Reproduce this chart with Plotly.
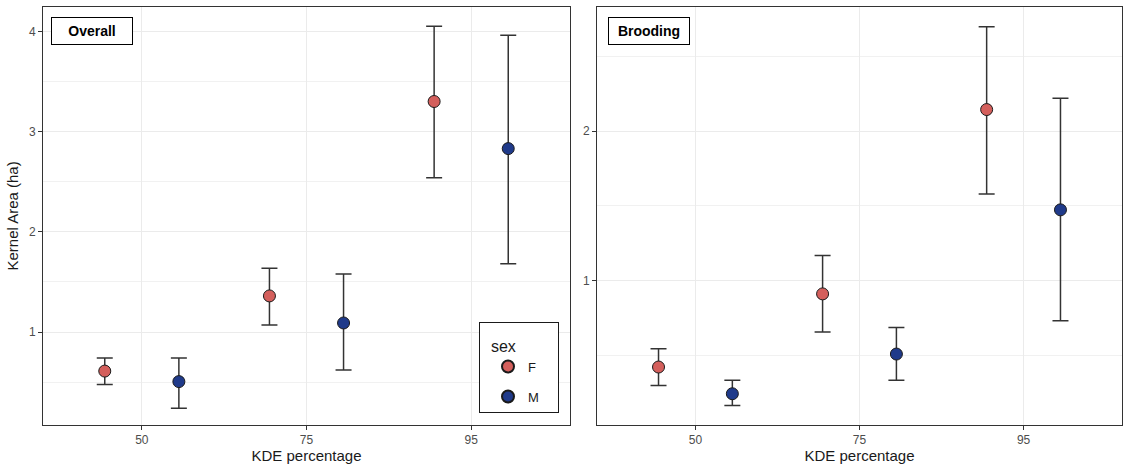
import plotly.graph_objects as go
from plotly.subplots import make_subplots

# ---- data ----
kde_levels = ["50", "75", "95"]
sexes = ["F", "M"]

overall_F_mean = [0.61, 1.36, 3.30]
overall_F_low = [0.475, 1.07, 2.54]
overall_F_high = [0.74, 1.635, 4.05]
overall_M_mean = [0.505, 1.09, 2.83]
overall_M_low = [0.24, 0.62, 1.68]
overall_M_high = [0.74, 1.58, 3.96]

brood_F_mean = [0.42, 0.91, 2.145]
brood_F_low = [0.297, 0.654, 1.58]
brood_F_high = [0.543, 1.167, 2.70]
brood_M_mean = [0.241, 0.507, 1.473]
brood_M_low = [0.163, 0.332, 0.73]
brood_M_high = [0.332, 0.685, 2.22]

colors = {"F": "#D45F5C", "M": "#1F3A8A"}
dodge = {"F": -0.225, "M": 0.225}

FONT = "Liberation Sans, Arial, sans-serif"
NB = "\u00a0"

fig = make_subplots(rows=1, cols=2, horizontal_spacing=0.02)

panels = [
    (1, {"F": (overall_F_mean, overall_F_low, overall_F_high),
         "M": (overall_M_mean, overall_M_low, overall_M_high)}),
    (2, {"F": (brood_F_mean, brood_F_low, brood_F_high),
         "M": (brood_M_mean, brood_M_low, brood_M_high)}),
]

for col, series in panels:
    for s in sexes:
        mean, low, high = series[s]
        xs = [i + 1 + dodge[s] for i in range(len(kde_levels))]
        fig.add_trace(
            go.Scatter(
                x=xs, y=mean, mode="markers", name=s,
                legendgroup=s, showlegend=(col == 1),
                marker=dict(size=12, color=colors[s],
                            line=dict(color="#1a1a1a", width=1)),
                error_y=dict(type="data", symmetric=False,
                             array=[h - m for h, m in zip(high, mean)],
                             arrayminus=[m - l for m, l in zip(mean, low)],
                             color="#333333", thickness=1.5, width=8),
            ),
            row=1, col=col,
        )

axis_common = dict(
    showline=True, mirror=True, linecolor="#333333", linewidth=1,
    ticks="outside", ticklen=4, tickcolor="#333333", tickwidth=1,
    tickfont=dict(family=FONT, size=12, color="#4D4D4D"),
    showgrid=True, gridcolor="#EBEBEB", gridwidth=1, zeroline=False,
)

for col in (1, 2):
    fig.update_xaxes(
        **axis_common, range=[0.4, 3.6],
        tickvals=[1, 2, 3], ticktext=kde_levels,
        title=dict(text="KDE percentage", font=dict(family=FONT, size=15, color="#1a1a1a"), standoff=3),
        row=1, col=col,
    )

fig.update_yaxes(
    **axis_common, range=[0.077, 4.24], tickvals=[1, 2, 3, 4],
    minor=dict(tickvals=[0.5, 1.5, 2.5, 3.5], showgrid=True, gridcolor="#F1F1F1", gridwidth=1, ticks=""),
    title=dict(text="Kernel Area (ha)", font=dict(family=FONT, size=15, color="#1a1a1a"), standoff=6),
    row=1, col=1,
)
fig.update_yaxes(
    **axis_common, range=[0.035, 2.83], tickvals=[1, 2],
    minor=dict(tickvals=[0.5, 1.5, 2.5], showgrid=True, gridcolor="#F1F1F1", gridwidth=1, ticks=""),
    row=1, col=2,
)

fig.update_layout(
    xaxis=dict(domain=[43 / 1125, 570 / 1125]),
    xaxis2=dict(domain=[597 / 1125, 1122 / 1125]),
    yaxis=dict(domain=[1 - 424.5 / 468, 1 - 7.3 / 468]),
    yaxis2=dict(domain=[1 - 424.5 / 468, 1 - 7.3 / 468]),
    width=1125, height=468,
    margin=dict(l=0, r=0, t=0, b=0, autoexpand=False),
    paper_bgcolor="white", plot_bgcolor="white",
    font=dict(family=FONT),
    legend=dict(
        title=dict(text='<span style="font-size:16px">' + NB * 2 + "sex" + NB * 9 + "</span>",
                   font=dict(family=FONT, size=22, color="#1a1a1a")),
        font=dict(family=FONT, size=13, color="#1a1a1a"),
        x=479 / 1125, xanchor="left", y=1 - 322 / 468, yanchor="top",
        bgcolor="white", bordercolor="#1a1a1a", borderwidth=1,
        itemsizing="constant", tracegroupgap=10, indentation=8,
    ),
    showlegend=True,
)

for label, x0 in (("<b>Overall</b>", 51), ("<b>Brooding</b>", 607.5)):
    fig.add_annotation(
        text=label, xref="paper", yref="paper",
        x=x0 / 1125, y=1 - 17.5 / 468, xanchor="left", yanchor="top",
        showarrow=False, width=76, height=22, borderpad=2,
        bordercolor="#000000", borderwidth=1, bgcolor="white",
        font=dict(family=FONT, size=14, color="#000000"),
    )

fig.write_html("out.html")
